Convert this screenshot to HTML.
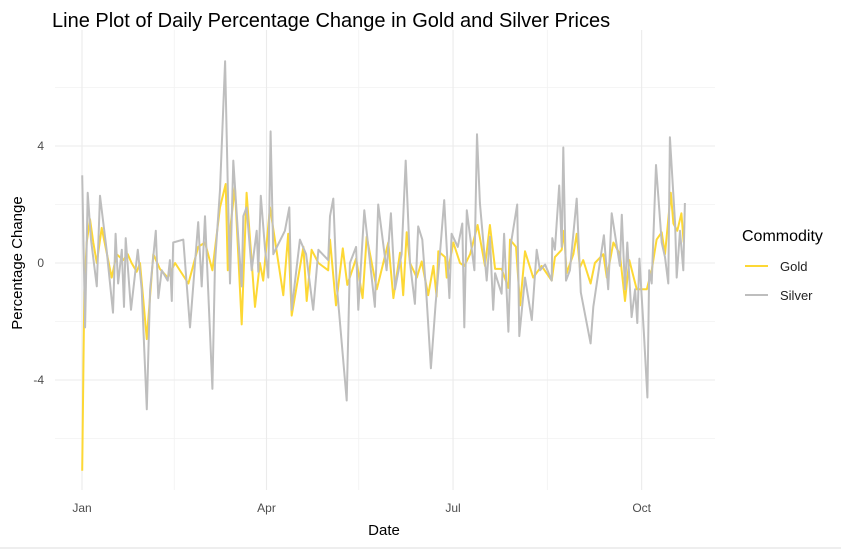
<!DOCTYPE html>
<html><head><meta charset="utf-8"><style>
body{margin:0;background:#fff;}
svg{display:block;font-family:"Liberation Sans",Arial,sans-serif;}
</style></head><body>
<svg id="chart" width="841" height="550">
<text x="52" y="27" font-size="20" fill="#000">Line Plot of Daily Percentage Change in Gold and Silver Prices</text>
<g id="grid"></g>
<g id="yticks"></g>
<g id="xticks"></g>
<g id="series"></g>
<text x="384" y="535" font-size="15" text-anchor="middle" fill="#000">Date</text>
<text transform="translate(22,263) rotate(-90)" font-size="15" text-anchor="middle" fill="#000">Percentage Change</text>
<g>
<text x="742" y="241" font-size="16" fill="#000">Commodity</text>
<g><line x1="745" y1="266" x2="768" y2="266" stroke="#FDD835" stroke-width="2"/><text x="780" y="271" font-size="13" fill="#222">Gold</text></g>
<g><line x1="745" y1="295" x2="768" y2="295" stroke="#BEBEBE" stroke-width="2"/><text x="780" y="300" font-size="13" fill="#222">Silver</text></g>
</g>
<line x1="0" y1="548" x2="841" y2="548" stroke="#ddd" stroke-width="1"/>
</svg>
<script>
const yTicks=[-4,0,4];
const yMinor=[-6,-2,2,6];
const xTickDays=[0,90,181,273];
const xTickLabels=["Jan","Apr","Jul","Oct"];
const xMinorDays=[45,135,227];
const silverDays=[0.1,1.5,2.8,4.4,7.2,8.8,12.0,15.1,16.4,17.6,19.4,20.5,21.3,23.9,27.2,29.1,31.6,33.2,36.0,37.2,38.9,41.8,42.9,43.8,44.5,49.4,52.7,56.7,58.4,60.0,63.6,64.9,67.3,68.4,69.8,71.1,72.2,73.8,76.2,77.9,78.7,80.3,82.8,85.2,86.0,87.2,89.3,90.9,92.0,93.3,99.0,101.1,102.3,106.3,109.3,112.8,115.3,120.1,121.0,122.6,124.2,129.1,130.7,133.7,134.8,137.7,142.9,144.5,148.6,150.7,152.7,155.9,157.9,160.0,162.4,164.0,166.0,168.1,170.2,172.5,174.6,176.7,179.2,180.3,183.3,185.5,186.5,187.7,191.4,192.7,194.1,197.4,199.0,200.6,201.5,204.7,205.9,208.0,209.3,212.3,213.3,216.1,219.4,221.8,223.4,225.9,229.1,229.4,230.7,232.8,234.0,234.8,236.1,238.0,241.3,243.3,248.1,249.4,254.6,256.7,258.4,262.4,263.3,264.9,266.0,268.1,269.8,270.9,271.9,274.1,275.8,276.7,277.9,280.0,282.8,284.4,286.0,286.8,289.3,290.1,291.7,293.3,294.1];
const silverValues=[3.0,-2.2,2.4,0.8,-0.8,2.3,0.45,-1.7,1.0,-0.7,0.45,-1.5,0.85,-1.6,0.45,-0.9,-5.0,-0.9,1.1,-1.2,-0.25,-0.6,0.1,-1.3,0.7,0.8,-2.2,1.4,-0.8,1.6,-4.3,0,2.5,4.4,6.9,2.6,-0.7,3.5,0.9,-0.8,1.6,1.9,-0.25,1.1,-0.3,2.3,0.45,-0.5,4.5,0.3,1.1,1.9,-1.6,0.8,0.3,-1.6,0.45,0.1,1.6,2.2,-0.7,-4.7,0,0.55,-1.6,1.8,-1.5,2.0,-0.25,1.7,-0.9,0.3,3.5,0,-1.4,1.25,0.8,-1.2,-3.6,-1.4,0.3,2.15,-1.2,1.0,0.55,1.35,-2.2,1.8,-0.25,4.4,2.05,-0.6,0.9,-1.6,-0.35,-1.05,1.0,-2.35,0.7,2.0,-2.5,-0.5,-1.95,0.45,-0.25,-0.05,-0.6,0.85,0.45,2.65,0.55,3.95,-0.6,-0.25,2.2,-1.0,-2.75,-1.5,0.95,-0.9,1.7,-0.1,1.65,-0.9,0.7,-1.85,-0.9,-2.05,0.15,-2.4,-4.6,-0.25,-0.7,3.35,0.7,0.2,-0.7,4.3,1.35,-0.5,1.1,-0.25,2.05];
const goldDays=[0.1,1.1,2.3,3.9,5.5,7.2,9.6,14.5,16.9,20.1,22.3,24.2,26.7,28.3,31.6,34.8,38.0,41.8,45.4,51.9,56.7,60.0,63.6,67.3,70.1,71.1,72.2,74.6,77.9,80.3,84.4,86.8,88.4,91.7,98.2,100.6,102.3,108.0,109.6,112.0,115.3,120.1,121.0,123.9,127.2,129.4,133.7,136.9,138.9,143.8,149.4,151.9,155.1,156.7,158.4,160.0,163.3,165.7,168.9,171.4,173.0,173.8,177.1,177.9,181.1,184.4,186.5,189.3,193.0,196.6,199.0,201.5,204.7,208.0,208.8,211.7,213.7,216.1,220.1,224.2,229.1,230.7,234.0,235.1,236.4,239.7,241.3,242.9,244.5,248.1,250.2,254.3,256.0,259.2,262.4,264.9,267.0,270.6,275.5,277.9,280.3,282.8,284.4,287.2,288.5,290.4,292.4,293.5];
const goldValues=[-7.1,-1.0,0.7,1.5,0.7,0,1.2,-0.5,0.3,0.1,0.3,0,-0.3,0,-2.6,0.3,-0.2,-0.5,0,-0.7,0.55,0.7,-0.25,1.9,2.7,-0.25,1.1,2.6,-2.1,2.4,-1.5,0,-0.6,1.9,-1.1,1.0,-1.8,0.55,-1.3,0.45,0,-0.25,0.8,-1.45,0.5,-0.75,0.15,-1.2,0.9,-0.9,0.7,-1.2,0.35,-1.1,1.05,0,-0.5,0.05,-1.1,-0.1,-1.15,0.4,0.2,-0.5,0.7,0,-0.1,0.3,1.3,-0.1,1.3,-0.2,-0.2,-0.85,0.8,0.55,-1.45,0.4,-0.5,-0.1,-0.6,0.2,0.45,1.1,-0.35,0.3,1.0,-0.15,0.1,-0.7,0,0.3,-0.5,0.7,0.3,-1.3,0.1,-0.9,-0.9,-0.25,0.8,1.05,0.3,2.4,1.35,1.1,1.7,0.7];

const NS="http://www.w3.org/2000/svg";
const X0=55,X1=715,Y0=30,Y1=490;
function xs(d){return 82+d*2.05;}
function ys(v){return 263-v*29.25;}
function mk(tag,attrs,parent){const e=document.createElementNS(NS,tag);for(const k in attrs)e.setAttribute(k,attrs[k]);parent.appendChild(e);return e;}
const grid=document.getElementById('grid');
yMinor.forEach(v=>{const l=mk('line',{x1:X0,x2:X1,y1:ys(v),y2:ys(v),stroke:'#f2f2f2','stroke-width':0.8},grid);

});
xMinorDays.forEach(d=>{const l=mk('line',{x1:xs(d),x2:xs(d),y1:Y0,y2:Y1,stroke:'#f2f2f2','stroke-width':0.8},grid);

});
const yt=document.getElementById('yticks');
yTicks.forEach(v=>{const l=mk('line',{x1:X0,x2:X1,y1:ys(v),y2:ys(v),stroke:'#ebebeb','stroke-width':1.1},grid);


const t=mk('text',{x:44,y:ys(v)+4,'font-size':12,'text-anchor':'end',fill:'#4d4d4d'},yt);
t.textContent=v;

});
const xt=document.getElementById('xticks');
xTickDays.forEach((d,i)=>{const l=mk('line',{x1:xs(d),x2:xs(d),y1:Y0,y2:Y1,stroke:'#ebebeb','stroke-width':1.1},grid);


const t=mk('text',{x:xs(d),y:512,'font-size':12,'text-anchor':'middle',fill:'#4d4d4d'},xt);
t.textContent=xTickLabels[i];

});
const sg=document.getElementById('series');
function path(days,vals,color,name){
const d=days.map((dd,i)=>(i?'L':'M')+xs(dd).toFixed(1)+','+ys(vals[i]).toFixed(1)).join('');
const p=mk('path',{d:d,fill:'none',stroke:color,'stroke-width':2,'stroke-linejoin':'round'},sg);

}
path(goldDays,goldValues,'#FDD835','gold-line');
path(silverDays,silverValues,'#BEBEBE','silver-line');
</script>
</body></html>
